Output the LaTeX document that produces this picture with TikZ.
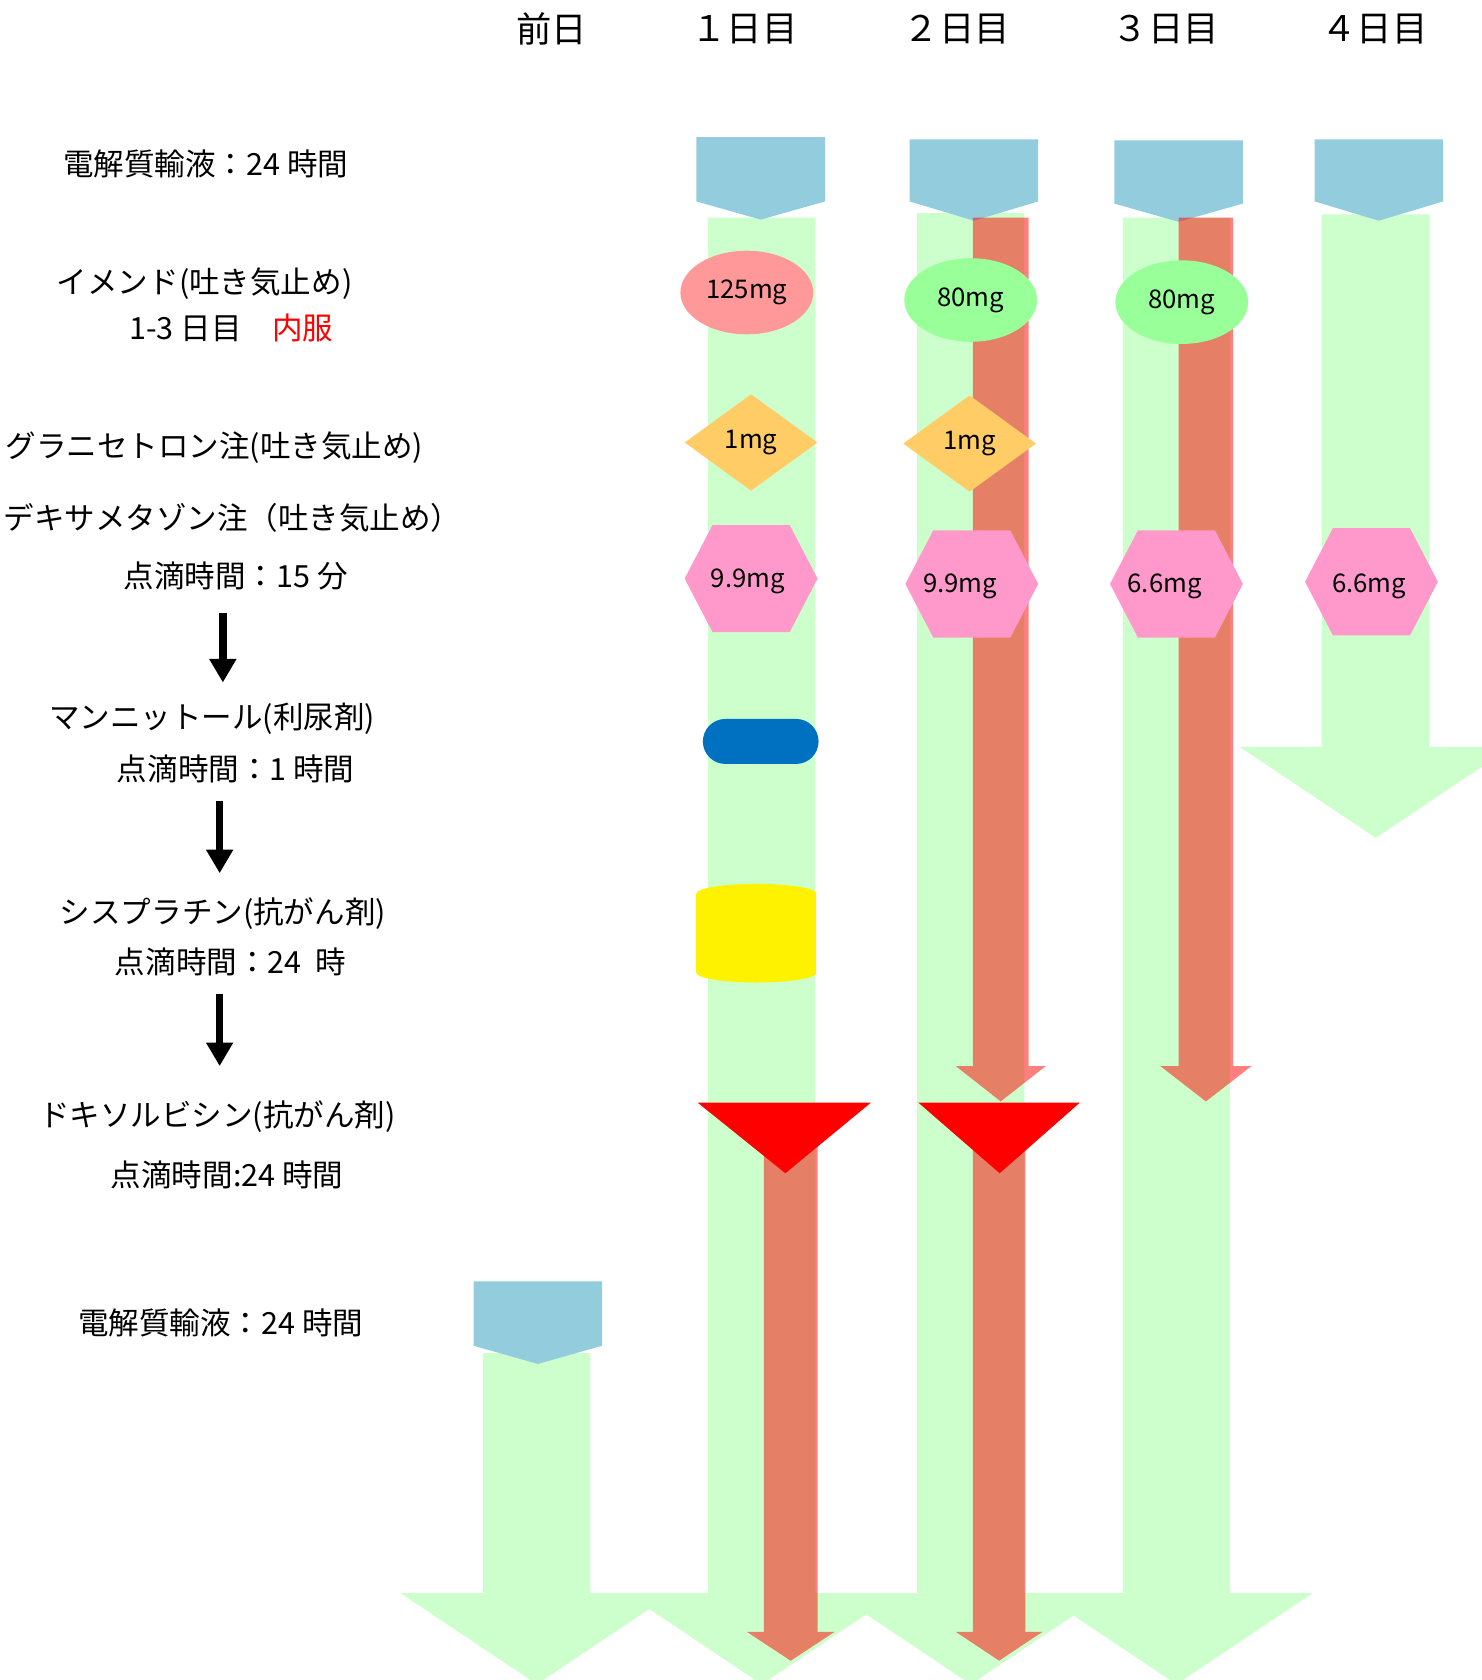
\documentclass[tikz,border=0pt]{standalone}
\usepackage{fontspec}
\setmainfont{Noto Sans CJK JP}
\usetikzlibrary{arrows.meta,shapes.geometric,shapes.misc}
\definecolor{infblue}{HTML}{93CDDD}
\definecolor{bargreen}{HTML}{CCFFCC}
\definecolor{emendred}{HTML}{FF9999}
\definecolor{emendgreen}{HTML}{99FF99}
\definecolor{granorange}{HTML}{FFCC66}
\definecolor{dexpink}{HTML}{FF99CC}
\definecolor{mannblue}{HTML}{0070C0}
\newcommand\garrow[3]{\fill[bargreen] ({#1-50},#2) -- ({#1+50},#2) -- ({#1+50},#3) -- ({#1+127},#3) -- (#1,{#3+85}) -- ({#1-127},#3) -- ({#1-50},#3) -- cycle;}
\newcommand\infpent[4]{\fill[infblue] ({#1-60},#2) -- ({#1+60},#2) -- ({#1+60},#3) -- (#1,#4) -- ({#1-60},#3) -- cycle;}
% x-left, x-right, top, head-y, tip-y, wing
\newcommand\rarrow[6]{\fill[red,fill opacity=0.5] (#1,#3) -- (#2,#3) -- (#2,#4) -- ({#2+#6},#4) -- ({(#1+#2)/2},#5) -- ({#1-#6},#4) -- (#1,#4) -- cycle;}
\newcommand\hexa[2]{\fill[dexpink] ({#1-62},#2) -- ({#1-36},{#2-50}) -- ({#1+36},{#2-50}) -- ({#1+62},#2) -- ({#1+36},{#2+50}) -- ({#1-36},{#2+50}) -- cycle;}
\tikzset{
  hdr/.style={font=\fontsize{33}{36}\selectfont, inner sep=0pt},
  lbl/.style={font=\fontsize{28.5}{32}\selectfont, inner sep=0pt},
  dose/.style={font=\fontsize{24}{26}\selectfont, inner sep=0pt, text=black},
  emend/.style={ellipse, minimum width=124, minimum height=78, inner sep=0pt, font=\fontsize{24}{26}\selectfont},
  gran/.style={diamond, fill=granorange, minimum width=124, minimum height=90, inner sep=0pt, font=\fontsize{24}{26}\selectfont},
  flow/.style={line width=7pt, -{Triangle[width=24pt,length=22pt]}},
}
\begin{document}
\begin{tikzpicture}[x=1pt,y=-1pt]
\useasboundingbox (0,0) rectangle (1383,1568);
% headers
\node[hdr] (h0) at (515,27) {前日};
\node[hdr] (h1) at (695,27) {１日目};
\node[hdr] (h2) at (893,27) {２日目};
\node[hdr] (h3) at (1088,27) {３日目};
\node[hdr] (h4) at (1283,27) {４日目};
% left labels
\node[lbl] (l1) at (192,153) {電解質輸液：24 時間};
\node[lbl] (l2a) at (191,265) {イメンド(吐き気止め)};
\node[lbl] (l2b) at (216,306) {1-3 日目　\textcolor{red}{内服}};
\node[lbl] (l3) at (200,418) {グラニセトロン注(吐き気止め)};
\node[lbl] (l4a) at (217,483) {デキサメタゾン注（吐き気止め）};
\node[lbl] (l4b) at (220,538) {点滴時間：15 分};
\node[lbl] (l5a) at (198,671) {マンニットール(利尿剤)};
\node[lbl] (l5b) at (220,718) {点滴時間：1 時間};
\node[lbl] (l6a) at (208,853) {シスプラチン(抗がん剤)};
\node[lbl] (l6b) at (215,898) {点滴時間：24\ \ 時};
\node[lbl] (l7a) at (203,1042) {ドキソルビシン(抗がん剤)};
\node[lbl] (l7b) at (212,1097) {点滴時間:24 時間};
\node[lbl] (l8) at (206,1235) {電解質輸液：24 時間};
\coordinate (a1s) at (208,572); \coordinate (a1e) at (208,637);
\coordinate (a2s) at (205,748); \coordinate (a2e) at (205,815);
\coordinate (a3s) at (205,928); \coordinate (a3e) at (205,995);
\draw[flow] (a1s) -- (a1e);
\draw[flow] (a2s) -- (a2e);
\draw[flow] (a3s) -- (a3e);
% green columns
\garrow{501}{1263}{1487}
\garrow{711}{203}{1487}
\garrow{906}{199}{1487}
\garrow{1098}{203}{1487}
\garrow{1284}{200}{697}
% infusion pentagons
\infpent{710}{128}{188}{205}
\infpent{909}{130}{188}{206}
\infpent{1100}{131}{190}{207}
\infpent{1287}{130}{188}{206}
\infpent{502}{1196}{1256}{1273}
% red arrows
\rarrow{908}{960}{203}{995}{1028}{16}
\rarrow{1100}{1151}{203}{995}{1028}{17}
\rarrow{713}{763}{1040}{1523}{1550}{16}
\rarrow{908}{957}{1040}{1523}{1550}{16}
% emend
\node[emend, fill=emendred] (e1) at (697,273) {125mg};
\node[emend, fill=emendgreen] (e2) at (906,280) {80mg};
\node[emend, fill=emendgreen] (e3) at (1103,282) {80mg};
% granisetron
\node[gran] (g1) at (701,413) {1mg};
\node[gran] (g2) at (905,414) {1mg};
% dexamethasone
\hexa{701}{540} \node[dose] (d1) at (698,543) {9.9mg};
\hexa{907}{545} \node[dose] (d2) at (896,547) {9.9mg};
\hexa{1098}{545} \node[dose] (d3) at (1087,547) {6.6mg};
\hexa{1280}{543} \node[dose] (d4) at (1278,547) {6.6mg};
% mannitol
\node[rounded rectangle, fill=mannblue, minimum width=108, minimum height=42, inner sep=0pt] (m1) at (710,692) {};
% cisplatin cylinder
\fill[yellow] (650,834) rectangle (762,908);
\fill[yellow] (706,834) ellipse [x radius=56, y radius=9];
\fill[yellow] (706,908) ellipse [x radius=56, y radius=9];
% doxorubicin triangles
\fill[red] (651,1029) -- (813,1029) -- (733,1095) -- cycle;
\fill[red] (857,1029) -- (1008,1029) -- (933,1095) -- cycle;
\end{tikzpicture}
\end{document}
